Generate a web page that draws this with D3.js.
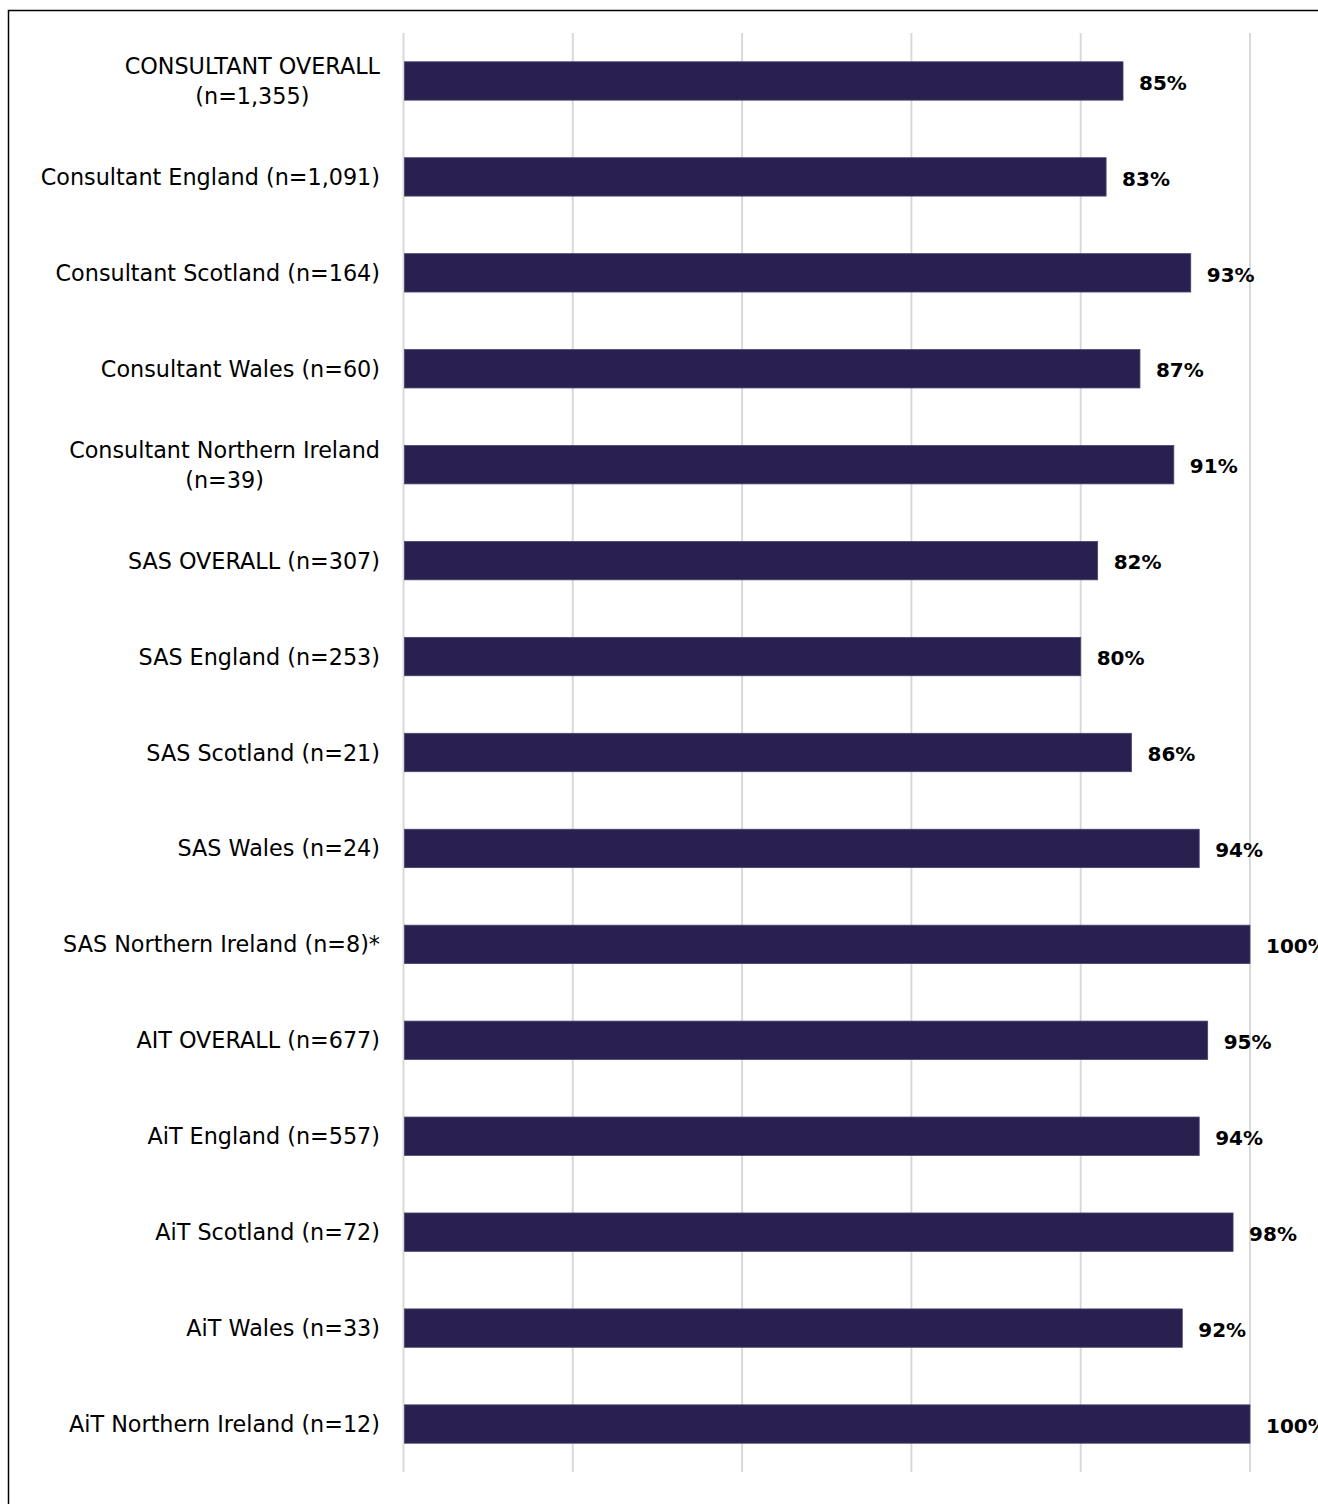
<!DOCTYPE html>
<html><head><meta charset="utf-8">
<script src="https://cdn.jsdelivr.net/npm/d3@7"></script>
<style>body{margin:0;background:#fff}</style>
</head><body>
<svg id="chart" width="1318" height="1504"></svg>
<script>
const categories = [
  ["CONSULTANT OVERALL","(n=1,355)"],
  ["Consultant England (n=1,091)"],
  ["Consultant Scotland (n=164)"],
  ["Consultant Wales (n=60)"],
  ["Consultant Northern Ireland","(n=39)"],
  ["SAS OVERALL (n=307)"],
  ["SAS England (n=253)"],
  ["SAS Scotland (n=21)"],
  ["SAS Wales (n=24)"],
  ["SAS Northern Ireland (n=8)*"],
  ["AIT OVERALL (n=677)"],
  ["AiT England (n=557)"],
  ["AiT Scotland (n=72)"],
  ["AiT Wales (n=33)"],
  ["AiT Northern Ireland (n=12)"]
];
const values = [85,83,93,87,91,82,80,86,94,100,95,94,98,92,100];
const ticks = [0,20,40,60,80,100];

const svg = d3.select("#chart");
const font = "'DejaVu Sans', sans-serif";
// frame
svg.append("path").attr("d","M1318,10.5 H8.5 V1504").attr("fill","none").attr("stroke","#000").attr("stroke-width",1.5);

const x = d3.scaleLinear().domain([0,100]).range([403.5,1250]);
const y = d3.scaleBand().domain(d3.range(categories.length)).range([33,1472]).paddingInner(0.6).paddingOuter(0.3);

svg.append("g").selectAll("line").data(ticks).join("line")
  .attr("x1",d=>x(d)).attr("x2",d=>x(d)).attr("y1",33).attr("y2",1472)
  .attr("stroke","#d9d9d9").attr("stroke-width",2);

svg.append("g").selectAll("rect").data(values).join("rect")
  .attr("x",x(0)+1).attr("y",(d,i)=>y(i)).attr("width",d=>x(d)-x(0)-1).attr("height",y.bandwidth())
  .attr("fill","#2a2050").attr("stroke","#4a4270").attr("stroke-width",0.8);

svg.append("g").selectAll("text").data(values).join("text")
  .attr("x",d=>x(d)+16).attr("y",(d,i)=>y(i)+y.bandwidth()/2+1.5).attr("dy","0.36em")
  .attr("font-family",font).attr("font-weight","bold").attr("font-size",20).attr("fill","#000")
  .text(d=>d+"%");

const lab = svg.append("g");
categories.forEach((c,i)=>{
  const cy = y(i)+y.bandwidth()/2;
  const t = lab.append("text").attr("font-family",font).attr("font-size",22.3).attr("fill","#000");
  if(c.length===1){
    t.attr("x",380).attr("y",cy).attr("dy","0.36em").attr("text-anchor","end").text(c[0]);
  } else {
    t.text(c[0]).attr("x",0).attr("y",0);
    const w = t.node().getComputedTextLength();
    const cx = 380 - w/2;
    t.text(null).attr("text-anchor","middle");
    c.forEach((s,k)=>{
      t.append("tspan").attr("x",cx).attr("y",cy+(k-(c.length-1)/2)*30).attr("dy","0.36em").text(s);
    });
  }
});
</script>
</body></html>
